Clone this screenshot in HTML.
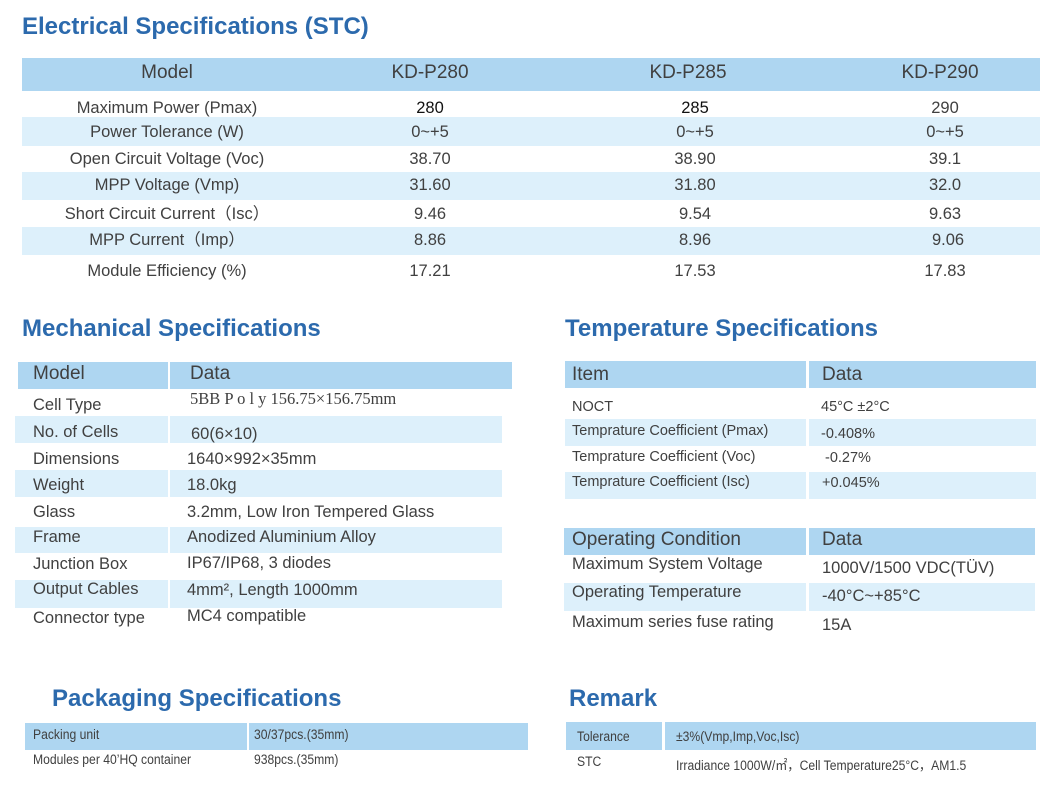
<!DOCTYPE html>
<html><head><meta charset="utf-8"><style>
body{margin:0;width:1064px;height:799px;background:#fff;position:relative;overflow:hidden;font-family:"Liberation Sans","Noto Sans CJK SC",sans-serif;color:#404040}
div{position:absolute;box-sizing:border-box}
.t{font-weight:bold;color:#2c6aad;font-size:24px}
.h{background:#aed6f1}
.l{background:#ddf0fb}
.c{text-align:center;white-space:nowrap}
.s{white-space:nowrap}
.n{transform:scaleX(0.9);transform-origin:left top}
</style></head><body>
<div class="t" style="left:22px;top:13px">Electrical Specifications (STC)</div>
<div class="h" style="left:22px;top:58px;width:1018px;height:33px"></div>
<div class="l" style="left:22px;top:117px;width:1018px;height:29px"></div>
<div class="l" style="left:22px;top:172px;width:1018px;height:28px"></div>
<div class="l" style="left:22px;top:227px;width:1018px;height:28px"></div>
<div style="left:0;top:62px;width:1064px;font-size:19px">
<div class="c" style="left:67px;width:200px">Model</div><div class="c" style="left:330px;width:200px">KD-P280</div><div class="c" style="left:588px;width:200px">KD-P285</div><div class="c" style="left:840px;width:200px">KD-P290</div></div>
<div style="left:0;top:95px;width:1064px;font-size:16.5px;line-height:27px">
<div class="c" style="left:22px;width:290px;top:0">Maximum Power (Pmax)</div><div class="c" style="left:22px;width:290px;top:24px">Power Tolerance (W)</div><div class="c" style="left:22px;width:290px;top:51px">Open Circuit Voltage (Voc)</div><div class="c" style="left:22px;width:290px;top:77px">MPP Voltage (Vmp)</div><div class="c" style="left:22px;width:290px;top:106px">Short Circuit Current（Isc）</div><div class="c" style="left:22px;width:290px;top:132px">MPP Current（Imp）</div><div class="c" style="left:22px;width:290px;top:163px">Module Efficiency (%)</div>
<div class="c" style="left:380px;width:100px;top:0;color:#111">280</div><div class="c" style="left:380px;width:100px;top:24px">0~+5</div><div class="c" style="left:380px;width:100px;top:51px">38.70</div><div class="c" style="left:380px;width:100px;top:77px">31.60</div><div class="c" style="left:380px;width:100px;top:106px">9.46</div><div class="c" style="left:380px;width:100px;top:132px">8.86</div><div class="c" style="left:380px;width:100px;top:163px">17.21</div>
<div class="c" style="left:645px;width:100px;top:0;color:#111">285</div><div class="c" style="left:645px;width:100px;top:24px">0~+5</div><div class="c" style="left:645px;width:100px;top:51px">38.90</div><div class="c" style="left:645px;width:100px;top:77px">31.80</div><div class="c" style="left:645px;width:100px;top:106px">9.54</div><div class="c" style="left:645px;width:100px;top:132px">8.96</div><div class="c" style="left:645px;width:100px;top:163px">17.53</div>
<div class="c" style="left:895px;width:100px;top:0">290</div><div class="c" style="left:895px;width:100px;top:24px">0~+5</div><div class="c" style="left:895px;width:100px;top:51px">39.1</div><div class="c" style="left:895px;width:100px;top:77px">32.0</div><div class="c" style="left:895px;width:100px;top:106px">9.63</div><div class="c" style="left:898px;width:100px;top:132px">9.06</div><div class="c" style="left:895px;width:100px;top:163px">17.83</div>
</div>

<div class="t" style="left:22px;top:315px">Mechanical Specifications</div>
<div class="h" style="left:18px;top:362px;width:150px;height:27px"></div>
<div class="h" style="left:170px;top:362px;width:342px;height:27px"></div>
<div class="l" style="left:15px;top:416px;width:153px;height:27px"></div><div class="l" style="left:170px;top:416px;width:332px;height:27px"></div>
<div class="l" style="left:15px;top:470px;width:153px;height:27px"></div><div class="l" style="left:170px;top:470px;width:332px;height:27px"></div>
<div class="l" style="left:15px;top:527px;width:153px;height:26px"></div><div class="l" style="left:170px;top:527px;width:332px;height:26px"></div>
<div class="l" style="left:15px;top:580px;width:153px;height:28px"></div><div class="l" style="left:170px;top:580px;width:332px;height:28px"></div>
<div class="s" style="left:33px;top:363px;font-size:19px">Model</div><div class="s" style="left:190px;top:363px;font-size:19px">Data</div>
<div style="left:33px;top:0;font-size:16.5px">
<div class="s" style="left:0;top:396px">Cell Type</div><div class="s" style="left:0;top:423px">No. of Cells</div><div class="s" style="left:0;top:450px">Dimensions</div><div class="s" style="left:0;top:476px">Weight</div><div class="s" style="left:0;top:503px">Glass</div><div class="s" style="left:0;top:528px">Frame</div><div class="s" style="left:0;top:555px">Junction Box</div><div class="s" style="left:0;top:580px">Output Cables</div><div class="s" style="left:0;top:609px">Connector type</div>
<div class="s" style="left:157px;top:389px;font-family:'Liberation Serif',serif">5BB P o l y 156.75×156.75mm</div>
<div class="s" style="left:158px;top:425px">60(6×10)</div><div class="s" style="left:154px;top:450px">1640×992×35mm</div><div class="s" style="left:154px;top:476px">18.0kg</div><div class="s" style="left:154px;top:503px">3.2mm, Low Iron Tempered Glass</div><div class="s" style="left:154px;top:528px">Anodized Aluminium Alloy</div><div class="s" style="left:154px;top:554px">IP67/IP68, 3 diodes</div><div class="s" style="left:154px;top:581px">4mm², Length 1000mm</div><div class="s" style="left:154px;top:607px">MC4 compatible</div>
</div>

<div class="t" style="left:565px;top:315px">Temperature Specifications</div>
<div class="h" style="left:565px;top:361px;width:241px;height:27px"></div><div class="h" style="left:809px;top:361px;width:227px;height:27px"></div>
<div class="l" style="left:565px;top:419px;width:241px;height:27px"></div><div class="l" style="left:809px;top:419px;width:227px;height:27px"></div>
<div class="l" style="left:565px;top:472px;width:241px;height:27px"></div><div class="l" style="left:809px;top:472px;width:227px;height:27px"></div>
<div class="s" style="left:572px;top:364px;font-size:19px">Item</div><div class="s" style="left:822px;top:364px;font-size:19px">Data</div>
<div style="left:572px;top:0;font-size:14.5px">
<div class="s" style="left:0;top:399px">NOCT</div><div class="s" style="left:0;top:423px">Temprature Coefficient (Pmax)</div><div class="s" style="left:0;top:449px">Temprature Coefficient (Voc)</div><div class="s" style="left:0;top:474px">Temprature Coefficient (Isc)</div>
<div class="s" style="left:249px;top:399px">45°C ±2°C</div><div class="s" style="left:249px;top:426px">-0.408%</div><div class="s" style="left:253px;top:450px">-0.27%</div><div class="s" style="left:250px;top:475px">+0.045%</div>
</div>
<div class="h" style="left:564px;top:528px;width:242px;height:27px"></div><div class="h" style="left:809px;top:528px;width:226px;height:27px"></div>
<div class="l" style="left:564px;top:583px;width:242px;height:28px"></div><div class="l" style="left:809px;top:583px;width:226px;height:28px"></div>
<div class="s" style="left:572px;top:529px;font-size:19px">Operating Condition</div><div class="s" style="left:822px;top:529px;font-size:19px">Data</div>
<div style="left:572px;top:0;font-size:16.5px">
<div class="s" style="left:0;top:555px">Maximum System Voltage</div><div class="s" style="left:0;top:583px">Operating Temperature</div><div class="s" style="left:0;top:613px">Maximum series fuse rating</div>
<div class="s" style="left:250px;top:559px">1000V/1500 VDC(TÜV)</div><div class="s" style="left:250px;top:587px">-40°C~+85°C</div><div class="s" style="left:250px;top:616px">15A</div>
</div>

<div class="t" style="left:52px;top:685px">Packaging Specifications</div>
<div class="h" style="left:25px;top:723px;width:222px;height:27px"></div><div class="h" style="left:249px;top:723px;width:279px;height:27px"></div>
<div class="s n" style="left:33px;top:727px;font-size:13.5px">Packing unit</div><div class="s n" style="left:254px;top:727px;font-size:13.5px">30/37pcs.(35mm)</div>
<div class="s n" style="left:33px;top:752px;font-size:13.5px">Modules per 40’HQ container</div><div class="s n" style="left:254px;top:752px;font-size:13.5px">938pcs.(35mm)</div>

<div class="t" style="left:569px;top:685px">Remark</div>
<div class="h" style="left:566px;top:722px;width:96px;height:28px"></div><div class="h" style="left:665px;top:722px;width:371px;height:28px"></div>
<div class="s n" style="left:577px;top:729px;font-size:13.5px">Tolerance</div><div class="s n" style="left:676px;top:729px;font-size:13.5px">±3%(Vmp,Imp,Voc,Isc)</div>
<div class="s n" style="left:577px;top:754px;font-size:13.5px">STC</div><div class="s n" style="left:676px;top:754px;font-size:13.5px">Irradiance 1000W/㎡，Cell Temperature25°C，AM1.5</div>
</body></html>
